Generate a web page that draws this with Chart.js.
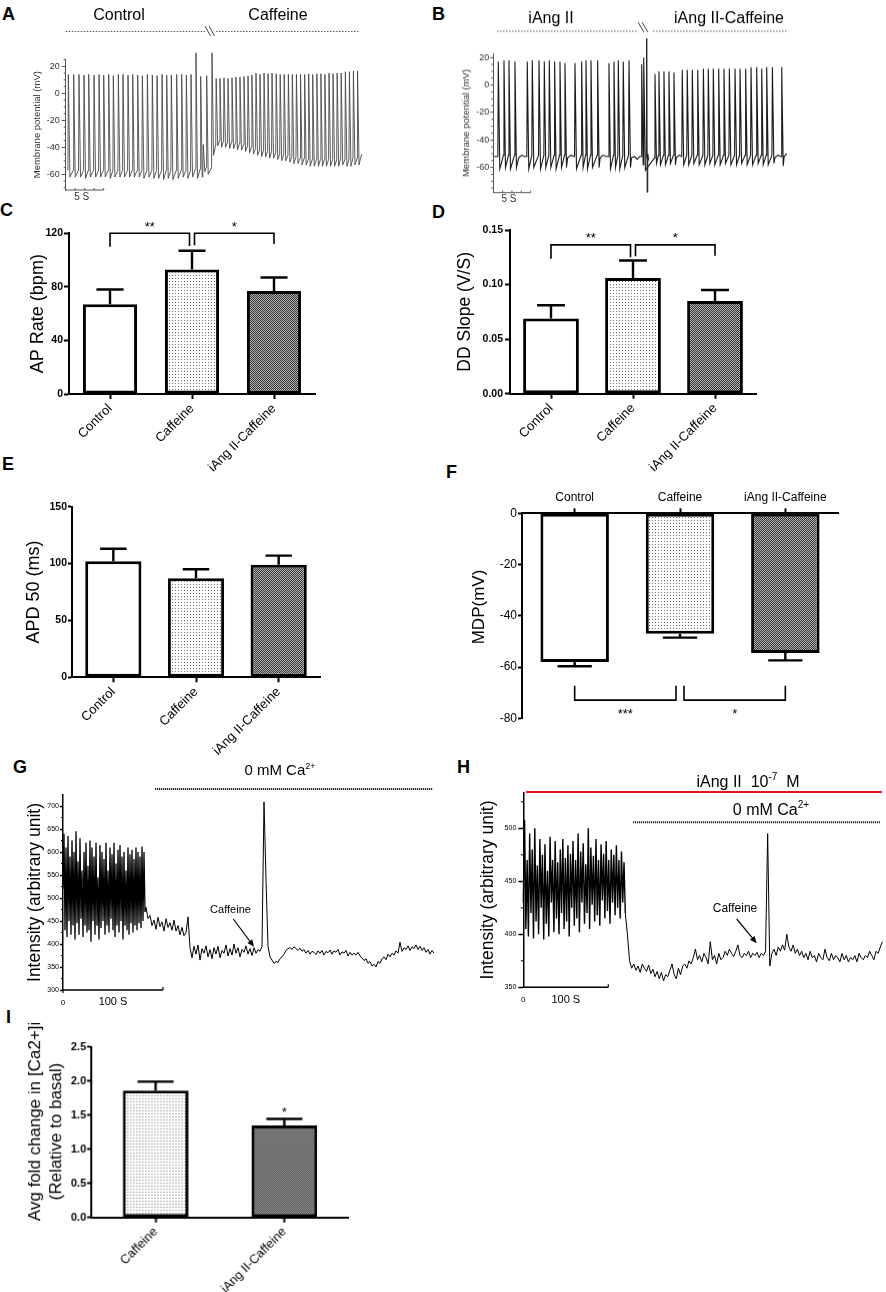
<!DOCTYPE html>
<html>
<head>
<meta charset="utf-8">
<script src="https://cdn.jsdelivr.net/npm/chart.js@4.4.1/dist/chart.umd.min.js"></script>
<style>
  body { margin: 0; background: #fff; }
  #fig { position: relative; width: 886px; height: 1292px; background: #fff; overflow: hidden;
         font-family: Arial, "Liberation Sans", Helvetica, sans-serif; }
  .lab { position: absolute; font-weight: bold; font-size: 18px; line-height: 18px; color: #000; }
</style>
</head>
<body>
<div id="fig">
  <div class="lab" style="left:2px;top:4.6px">A</div>
  <div class="lab" style="left:432px;top:4.6px">B</div>
  <div class="lab" style="left:0px;top:200.6px">C</div>
  <div class="lab" style="left:432px;top:202.6px">D</div>
  <div class="lab" style="left:2px;top:454.6px">E</div>
  <div class="lab" style="left:446px;top:462.6px">F</div>
  <div class="lab" style="left:13px;top:757.6px">G</div>
  <div class="lab" style="left:457px;top:757.6px">H</div>
  <div class="lab" style="left:6px;top:1007.6px">I</div>
</div>
<script>
// ---- A: sinoatrial AP trace, control then caffeine (s, mV per beat) ----
const aTimes = [
  0.35, 1.05, 1.75, 2.41, 3.03, 3.73, 4.39, 5.0, 5.66, 6.27, 6.93, 7.54, 8.2, 8.82, 9.47, 10.09,
  10.75, 11.4, 12.02, 12.68, 13.29, 13.9, 14.6, 15.26, 15.88, 16.49, 17.14, 17.76, 18.1, 18.55, 19.25,
  19.8, 20.3, 20.83, 21.36, 21.88, 22.4, 22.93, 23.46, 23.99, 24.5, 25.04, 25.57, 26.1, 26.63, 27.15,
  27.7, 28.22, 28.75, 29.3, 29.82, 30.36, 30.9, 31.44, 31.97, 32.5, 33.05, 33.58, 34.1, 34.65, 35.18,
  35.72, 36.25, 36.8, 37.33, 37.86, 38.4
];
const aTakeoff = [
  -57, -57, -57, -57, -57, -57, -57, -57, -57, -57, -57, -57, -57, -57, -57, -57,
  -57, -57, -57, -57, -57, -57, -57, -57, -57, -57, -56, -56, -57, -55, -55,
  -38, -35, -35, -36, -36, -37, -37, -38, -39, -40, -41, -42, -42, -43, -43,
  -44, -45, -45, -46, -47, -47, -48, -48, -49, -49, -49, -49, -49, -49, -49,
  -49, -48, -49, -49, -48, -48
];
const aPeak = [
  14, 14, 14, 13.5, 14, 13.5, 14, 13.5, 14, 13, 14, 14, 13.5, 14, 13.5, 13,
  14, 13.5, 13, 14, 13.5, 13.5, 14, 14, 13.5, 14, 30, 12.5, -38, 13, 30,
  11, 11, 11.5, 11, 11.5, 12, 12, 12.5, 13, 13.5, 15, 14, 15, 14.5, 15,
  14.5, 14, 14, 14, 14, 14, 14, 14, 14.5, 14, 14.5, 14.5, 14, 15, 14.5,
  15, 15, 16, 16, 16.5, 16.5
];
const aTrough = [
  -62, -62, -62, -63, -62, -62, -62, -62, -63, -62, -62, -62, -62, -62, -62, -63,
  -62, -63, -63, -64, -63, -64, -63, -62, -63, -62, -63, -62, -58, -60, -46,
  -39, -40, -40, -41, -41, -42, -42, -43, -44, -45, -46, -47, -47, -48, -48,
  -49, -50, -50, -51, -52, -52, -53, -53, -54, -54, -54, -54, -54, -54, -54,
  -54, -53, -54, -54, -53, -53
];
const aTailT = [38.75, 38.95];
const aTailV = [-49, -45];
const aYTicks = [-60, -40, -20, 0, 20];
const aYMinor = [-70, -65, -55, -50, -45, -35, -30, -25, -15, -10, -5, 5, 10, 15, 25];

// ---- B: iAng II then iAng II + caffeine ----
const bTimes = [
  0.67, 1.43, 2.1, 2.9, 4.55, 5.22, 6.12, 6.83, 7.5, 8.21, 8.93, 9.6, 10.94, 11.83, 12.41, 13.08,
  13.97, 15.49, 16.16, 16.74, 17.4, 18.17, 19.87, 20.17,
  21.65, 22.18, 22.85, 23.52, 24.19, 25.3, 25.97, 26.65, 27.37, 28.13, 28.79, 29.46, 30.18, 30.89,
  31.61, 32.37, 33.04, 33.79, 34.51, 35.27, 35.94, 36.61, 37.37, 38.62
];
const bTakeoff = [
  -52, -51, -51, -51, -52, -51, -51, -51, -51, -51, -51, -51, -52, -51, -51, -51,
  -51, -52, -51, -51, -51, -51, -52, -51,
  -53, -51, -51, -51, -51, -52, -51, -51, -51, -51, -51, -51, -51, -51,
  -51, -51, -51, -51, -51, -51, -51, -51, -51, -52
];
const bPeak = [
  17, 18, 18, 17, 17, 18, 18, 17, 18, 17, 17, 16, 16, 17, 18, 18,
  18, 16, 17, 18, 17, 18, 15, 20,
  8, 10, 10, 10, 9, 11, 11, 11, 11, 12, 12, 12, 12, 12,
  12, 12, 12, 12, 13, 13, 12, 13, 13, 13
];
const bTrough = [
  -61, -60, -61, -60, -61, -60, -61, -60, -60, -61, -60, -60, -61, -60, -61, -60,
  -60, -61, -60, -61, -60, -60, -58, -62,
  -57, -58, -58, -57, -58, -58, -58, -57, -58, -58, -57, -58, -58, -57,
  -58, -58, -57, -58, -58, -57, -58, -58, -57, -59
];
// resting stretches between bursts
const bRestT = [0.1, 3.4, 3.8, 4.2, 9.95, 10.4, 14.3, 14.7, 15.1, 18.5, 18.9, 19.3, 19.6,
                24.5, 24.9, 37.7, 38.1, 38.95, 39.3];
const bRestV = [-52, -53, -51, -52, -53, -51, -53, -51, -52, -53, -52, -54, -52,
                -53, -51, -53, -51, -52, -50];
const bArtifactT = [20.48, 20.54, 20.6, 20.68, 20.8];
const bArtifactV = [-53, 34, -78, -50, -55];
const bYTicks = [-60, -40, -20, 0, 20];
const bYMinor = [-75, -70, -65, -55, -50, -45, -35, -30, -25, -15, -10, -5, 5, 10, 15];

// ---- C-F, I: group means and SEM ----
const groups3 = ['Control', 'Caffeine', 'iAng II-Caffeine'];
const groups2 = ['Caffeine', 'iAng II-Caffeine'];
const apRate = [67, 93, 77];
const apRateSem = [11, 14, 10];
const ddSlope = [0.069, 0.106, 0.085];
const ddSlopeSem = [0.012, 0.016, 0.010];
const apd50 = [102, 87, 99];
const apd50Sem = [11, 8, 8];
const mdp = [-58, -47, -54.5];
const mdpSem = [1.7, 1.5, 2.9];
const caFold = [1.86, 1.35];
const caFoldSem = [0.13, 0.095];
const cTicks = [0, 40, 80, 120];
const dTicks = [0, 0.05, 0.10, 0.15];
const eTicks = [0, 50, 100, 150];
const fTicks = [-80, -60, -40, -20, 0];
const iTicks = [0, 0.5, 1.0, 1.5, 2.0, 2.5];
const cSig = [{ from: 0, to: 1, level: 120, ends: [110, 110.5], text: '**' },
              { from: 1, to: 2, level: 120, ends: [111, 112], text: '*' }];
const dSig = [{ from: 0, to: 1, level: 0.1364, ends: [0.1236, 0.125], text: '**' },
              { from: 1, to: 2, level: 0.1364, ends: [0.126, 0.1263], text: '*' }];
const fSig = [{ from: 0, to: 1, level: -72.9, ends: [-67.3, -67.3], text: '***' },
              { from: 1, to: 2, level: -72.9, ends: [-67.3, -67.3], text: '*' }];
const iSig = [{ from: 1, to: 1, level: 1.46, text: '*' }];

// ---- G: Ca2+ fluorescence, fast part sampled every 2 s, then every 4 s ----
const gFast = [
  520, 640, 430, 610, 415, 635, 450, 590, 420, 625,
  440, 600, 410, 645, 445, 580, 420, 630, 455, 560,
  415, 600, 440, 620, 425, 570, 430, 625, 405, 610,
  450, 590, 420, 620, 440, 545, 410, 615, 435, 600,
  450, 585, 420, 620, 440, 560, 425, 610, 455, 595,
  430, 620, 415, 575, 440, 605, 425, 615, 450, 590,
  410, 600, 440, 560, 430, 610, 420, 595, 445, 605,
  425, 585, 440, 610, 430, 600, 445, 590, 435, 612,
  450, 600, 470
];
const gSlow = [
  480, 455, 462, 440, 452, 432, 458, 438, 448, 428,
  455, 436, 446, 430, 452, 428, 440, 420, 436, 418,
  425, 459, 392, 370, 395, 378, 398, 365, 390, 380,
  396, 372, 388, 368, 392, 378, 395, 370, 386, 380,
  398, 374, 390, 376, 400, 380, 392, 372, 388, 382,
  396, 378, 390, 375, 392, 380, 388, 384, 395, 709,
  540, 395, 372, 365, 358, 362, 360, 368, 372, 378,
  386, 390, 392, 388, 394, 390, 386, 391, 384, 388,
  380, 386, 378, 384, 382, 377, 385, 380, 386, 376,
  384, 381, 387, 378, 385, 382, 388, 376, 383, 380,
  386, 374, 382, 376, 380, 376, 382, 374, 370, 364,
  368, 358, 362, 352, 356, 350, 362, 358, 368, 372,
  366, 378, 372, 380, 376, 385, 380, 404, 384, 392,
  388, 396, 386, 394, 390, 398, 388, 395, 386, 392,
  382, 388, 378, 386, 380
];
const gYTicks = [300, 350, 400, 450, 500, 550, 600, 650, 700];
const gYMinor = [325, 375, 425, 475, 525, 575, 625, 675];

// ---- H: same with iAng II, fast part every 3 s, then every 5 s ----
const hFast = [
  430, 508, 405, 470, 398, 495, 420, 480, 396, 500,
  412, 465, 400, 490, 425, 475, 395, 485, 410, 460,
  398, 492, 430, 470, 402, 488, 415, 468, 400, 480,
  420, 490, 405, 472, 412, 484, 398, 476, 425, 488,
  408, 470, 415, 495, 402, 478, 430, 486, 410, 466,
  420, 500, 405, 482, 428, 474, 412, 490, 418, 470,
  408, 485, 432, 476, 415, 488, 422, 470, 410, 480,
  430, 475, 418, 484, 425, 470, 415, 478, 430, 468,
  420
];
const hSlow = [
  400, 375, 368, 372, 366, 370, 364, 372, 368, 365,
  371, 363, 367, 360, 365, 358, 364, 356, 362, 360,
  366, 372, 362, 358, 368, 362, 370, 372, 368, 375,
  372, 378, 386, 376, 380, 374, 382, 378, 372, 393,
  376, 380, 372, 382, 376, 378, 384, 380, 386, 382,
  379, 384, 390, 380, 378, 382, 380, 384, 378, 382,
  380, 383, 378, 382, 380, 384, 495, 370, 382, 386,
  380, 388, 384, 390, 385, 400, 388, 384, 390, 382,
  386, 380, 384, 378, 382, 376, 384, 378, 380, 374,
  382, 378, 376, 386, 378, 375, 382, 376, 380, 378,
  374, 382, 376, 380, 374, 378, 376, 380, 374, 382,
  378, 376, 380, 378, 384, 380, 376, 384, 382, 388,
  393
];
const hYTicks = [350, 400, 450, 500];
const hYMinor = [375, 425, 475, 525];

// ---------------------------------------------------------------
const FONT = 'Arial, "Liberation Sans", Helvetica, sans-serif';
Chart.defaults.font.family = FONT;
Chart.defaults.color = '#000';
Chart.defaults.animation = false;
Chart.defaults.responsive = true;
Chart.defaults.maintainAspectRatio = false;
Chart.defaults.plugins.legend.display = false;
Chart.defaults.plugins.tooltip.enabled = false;

const fig = document.getElementById('fig');
const UPSTROKE = 0.06, REPOL = 0.2;

function beats(times, takeoff, peak, trough) {
  const pts = [];
  times.forEach((t, i) => {
    pts.push({ x: t - UPSTROKE, y: takeoff[i] }, { x: t, y: peak[i] }, { x: t + REPOL, y: trough[i] });
  });
  return pts;
}
function sampled(start, step, values) {
  return values.map((v, i) => ({ x: start + i * step, y: v }));
}
function pairs(ts, vs) {
  return ts.map((t, i) => ({ x: t, y: vs[i] }));
}
function byTime(...lists) {
  return [].concat(...lists).sort((p, q) => p.x - q.x);
}

function boxFor(plot, m) {
  return { left: plot[0] - m.l, top: plot[1] - m.t,
           width: plot[2] - plot[0] + m.l + m.r, height: plot[3] - plot[1] + m.t + m.b };
}
function mount(b) {
  const d = document.createElement('div');
  d.style.cssText = `position:absolute;left:${b.left}px;top:${b.top}px;width:${b.width}px;height:${b.height}px`;
  const c = document.createElement('canvas');
  d.appendChild(c);
  fig.appendChild(d);
  return c;
}
function tile(size, paint) {
  const c = document.createElement('canvas');
  c.width = c.height = size;
  const g = c.getContext('2d');
  paint(g);
  return g.createPattern(c, 'repeat');
}
const dots = tile(3, g => {
  g.fillStyle = '#fff'; g.fillRect(0, 0, 3, 3);
  g.fillStyle = '#6e6e6e'; g.fillRect(1, 1, 1, 1);
});
const mesh = tile(2, g => {
  g.fillStyle = '#b8b8b8'; g.fillRect(0, 0, 2, 2);
  g.fillStyle = '#2e2e2e'; g.fillRect(0, 0, 1, 1); g.fillRect(1, 1, 1, 1);
});

// ---- drawing helpers (page coordinates) ----
function stroke(ctx, pts, color, width, dash) {
  ctx.save();
  ctx.strokeStyle = color; ctx.lineWidth = width;
  ctx.setLineDash(dash || []);
  ctx.beginPath();
  pts.forEach((p, i) => i ? ctx.lineTo(p[0], p[1]) : ctx.moveTo(p[0], p[1]));
  ctx.stroke();
  ctx.restore();
}
function label(ctx, str, x, y, size, align, color) {
  ctx.save();
  ctx.font = `${size}px ${FONT}`;
  ctx.fillStyle = color || '#000';
  ctx.textAlign = align || 'center';
  ctx.textBaseline = 'alphabetic';
  ctx.fillText(str, x, y);
  ctx.restore();
}
function vlabel(ctx, str, cx, cy, size) {
  ctx.save();
  ctx.translate(cx, cy);
  ctx.rotate(-Math.PI / 2);
  ctx.font = `${size}px ${FONT}`;
  ctx.fillStyle = '#000';
  ctx.textAlign = 'center';
  ctx.textBaseline = 'middle';
  ctx.fillText(str, 0, 0);
  ctx.restore();
}
function runs(ctx, parts, cx, y) {
  ctx.save();
  ctx.fillStyle = '#000'; ctx.textAlign = 'left'; ctx.textBaseline = 'alphabetic';
  let w = 0;
  parts.forEach(p => { ctx.font = `${p[1]}px ${FONT}`; w += ctx.measureText(p[0]).width; });
  let x = cx - w / 2;
  parts.forEach(p => {
    ctx.font = `${p[1]}px ${FONT}`;
    ctx.fillText(p[0], x, y - p[2]);
    x += ctx.measureText(p[0]).width;
  });
  ctx.restore();
}
function arrow(ctx, x0, y0, x1, y1) {
  const a = Math.atan2(y1 - y0, x1 - x0);
  stroke(ctx, [[x0, y0], [x1 - 4 * Math.cos(a), y1 - 4 * Math.sin(a)]], '#000', 1.2);
  ctx.save();
  ctx.fillStyle = '#000';
  ctx.beginPath();
  ctx.moveTo(x1, y1);
  ctx.lineTo(x1 - 7 * Math.cos(a) + 3 * Math.sin(a), y1 - 7 * Math.sin(a) - 3 * Math.cos(a));
  ctx.lineTo(x1 - 7 * Math.cos(a) - 3 * Math.sin(a), y1 - 7 * Math.sin(a) + 3 * Math.cos(a));
  ctx.closePath();
  ctx.fill();
  ctx.restore();
}
function minorTicks(ctx, area, Y, values, len, color, width) {
  ctx.save();
  ctx.strokeStyle = color; ctx.lineWidth = width;
  ctx.beginPath();
  values.forEach(v => { const y = Y(v); ctx.moveTo(area.l - len, y); ctx.lineTo(area.l, y); });
  ctx.stroke();
  ctx.restore();
}

function overlay(b, draw) {
  return {
    id: 'overlay',
    afterDraw(chart) {
      if (!draw) return;
      const ctx = chart.ctx, ca = chart.chartArea;
      const X = v => chart.scales.x.getPixelForValue(v) + b.left;
      const Y = v => chart.scales.y.getPixelForValue(v) + b.top;
      const area = { l: ca.left + b.left, r: ca.right + b.left, t: ca.top + b.top, b: ca.bottom + b.top };
      ctx.save();
      ctx.translate(-b.left, -b.top);
      draw(ctx, X, Y, area);
      ctx.restore();
    }
  };
}

function tracePanel(p) {
  const b = boxFor(p.plot, p.m);
  new Chart(mount(b), {
    type: 'line',
    data: {
      datasets: p.series.map(s => ({
        data: s.data, borderColor: s.color, borderWidth: s.width,
        pointRadius: 0, tension: 0, clip: false
      }))
    },
    options: {
      layout: { padding: { top: p.m.t, right: p.m.r, bottom: p.m.b, left: 0 } },
      scales: {
        x: { type: 'linear', display: false, min: p.xMin, max: p.xMax },
        y: {
          min: p.yMin, max: p.yMax,
          afterFit: s => { s.width = p.m.l; },
          afterBuildTicks: s => { s.ticks = p.yTicks.map(v => ({ value: v })); },
          border: { color: p.axisColor, width: p.axisWidth },
          grid: { drawOnChartArea: false, tickLength: p.tickLen, tickWidth: p.axisWidth, tickColor: p.axisColor },
          ticks: { padding: p.tickPad, font: { size: p.tickSize }, color: p.tickColor },
          title: { display: true, text: p.title, color: p.titleColor,
                   font: { size: p.titleSize }, padding: { top: p.titlePad, bottom: 0 } }
        }
      }
    },
    plugins: [overlay(b, p.draw)]
  });
}

function errorBars(values, errors, capFrac) {
  return {
    id: 'errorBars',
    afterDatasetsDraw(chart) {
      const ctx = chart.ctx, y = chart.scales.y;
      ctx.save();
      ctx.strokeStyle = '#000'; ctx.lineWidth = 2.4;
      chart.getDatasetMeta(0).data.forEach((bar, i) => {
        const v = values[i], dir = v < 0 ? -1 : 1;
        const y0 = y.getPixelForValue(v), y1 = y.getPixelForValue(v + dir * errors[i]);
        const half = bar.width * capFrac / 2;
        ctx.beginPath();
        ctx.moveTo(bar.x, y0); ctx.lineTo(bar.x, y1);
        ctx.moveTo(bar.x - half, y1); ctx.lineTo(bar.x + half, y1);
        ctx.stroke();
      });
      ctx.restore();
    }
  };
}

function sigMarks(list, st) {
  return {
    id: 'sigMarks',
    afterDatasetsDraw(chart) {
      const { ctx, scales: { x, y } } = chart;
      ctx.save();
      ctx.strokeStyle = '#000'; ctx.fillStyle = '#000'; ctx.lineWidth = 1.6;
      ctx.font = `${st.size}px ${FONT}`; ctx.textAlign = 'center'; ctx.textBaseline = 'alphabetic';
      list.forEach(m => {
        const yl = y.getPixelForValue(m.level);
        if (!m.ends) {
          ctx.fillText(m.text, x.getPixelForValue(m.from), yl + st.dy);
          return;
        }
        const shared = i => list.some(o => o !== m && o.ends && (o.from === i || o.to === i));
        const xa = x.getPixelForValue(m.from) + (shared(m.from) ? st.gap : 0);
        const xb = x.getPixelForValue(m.to) - (shared(m.to) ? st.gap : 0);
        ctx.beginPath();
        ctx.moveTo(xa, y.getPixelForValue(m.ends[0]));
        ctx.lineTo(xa, yl); ctx.lineTo(xb, yl);
        ctx.lineTo(xb, y.getPixelForValue(m.ends[1]));
        ctx.stroke();
        ctx.fillText(m.text, (xa + xb) / 2, yl + st.dy);
      });
      ctx.restore();
    }
  };
}

function barPanel(p) {
  const b = boxFor(p.plot, p.m);
  const onTop = p.xPos === 'top';
  new Chart(mount(b), {
    type: 'bar',
    data: {
      labels: p.labels,
      datasets: [{
        data: p.values, backgroundColor: p.fills, borderColor: '#000', borderWidth: 3,
        borderSkipped: false, barPercentage: 1, categoryPercentage: p.cat
      }]
    },
    options: {
      layout: {
        padding: onTop ? { top: p.m.t - p.xh, right: p.m.r, bottom: p.m.b, left: 0 }
                       : { top: p.m.t, right: p.m.r, bottom: 0, left: 0 }
      },
      scales: {
        x: {
          position: onTop ? 'top' : 'bottom',
          afterFit: s => { s.height = onTop ? p.xh : p.m.b; },
          border: { color: '#000', width: 2 },
          grid: { drawOnChartArea: false, offset: false, tickLength: 5, tickWidth: 2, tickColor: '#000' },
          ticks: { autoSkip: false, minRotation: p.rot, maxRotation: p.rot, padding: p.xPad,
                   font: { size: p.xSize } }
        },
        y: {
          min: p.yMin, max: p.yMax,
          afterFit: s => { s.width = p.m.l; },
          afterBuildTicks: s => { s.ticks = p.yTicks.map(v => ({ value: v })); },
          border: { color: '#000', width: 2 },
          grid: { drawOnChartArea: false, tickLength: p.tickLen, tickWidth: 2, tickColor: '#000' },
          ticks: { padding: p.tickPad, font: { size: p.ySize, weight: p.yWeight },
                   callback: v => Number(v).toFixed(p.dec) },
          title: { display: !!p.title, text: p.title || '', font: { size: p.titleSize || 16 },
                   padding: { top: p.titlePad || 0, bottom: 0 } }
        }
      }
    },
    plugins: [errorBars(p.values, p.errors, p.cap), sigMarks(p.sig || [], p.sigStyle || {}), overlay(b, p.draw)]
  });
}

// ---- A ----
tracePanel({
  plot: [65.7, 59.3, 362.1, 190], m: { l: 50.7, t: 59.3, r: 5, b: 17 },
  xMin: 0, xMax: 39, yMin: -71.6, yMax: 25.2, yTicks: aYTicks,
  axisColor: '#555', axisWidth: 1, tickLen: 4, tickPad: 2, tickSize: 9, tickColor: '#333',
  title: 'Membrane potential (mV)', titleSize: 9.5, titleColor: '#333', titlePad: 16.3,
  series: [{ data: byTime(beats(aTimes, aTakeoff, aPeak, aTrough), pairs(aTailT, aTailV)), color: '#4a4a4a', width: 0.9 }],
  draw(ctx, X, Y, area) {
    label(ctx, 'Control', 119, 20, 16);
    label(ctx, 'Caffeine', 278, 20, 16);
    stroke(ctx, [[65.7, 31.5], [205, 31.5]], '#555', 1, [1.5, 1.5]);
    stroke(ctx, [[216, 31.5], [358.3, 31.5]], '#555', 1, [1.5, 1.5]);
    stroke(ctx, [[205, 26], [210.5, 36]], '#444', 1);
    stroke(ctx, [[209, 26], [214.5, 36]], '#444', 1);
    stroke(ctx, [[X(0), area.b], [X(5), area.b]], '#555', 1);
    [1.25, 2.5, 3.75, 5].forEach(t => stroke(ctx, [[X(t), area.b], [X(t), area.b - 2]], '#555', 1));
    label(ctx, '5 S', X(2.1), area.b + 10, 10, 'center', '#333');
    minorTicks(ctx, area, Y, aYMinor, 2, '#555', 1);
  }
});

// ---- B ----
tracePanel({
  plot: [493.3, 53.3, 788.3, 191.7], m: { l: 48.3, t: 53.3, r: 5, b: 17 },
  xMin: 0, xMax: 39.5, yMin: -78.3, yMax: 22.9, yTicks: bYTicks,
  axisColor: '#555', axisWidth: 1, tickLen: 3, tickPad: 1, tickSize: 9, tickColor: '#333',
  title: 'Membrane potential (mV)', titleSize: 9.5, titleColor: '#333', titlePad: 16,
  series: [
    { data: byTime(beats(bTimes, bTakeoff, bPeak, bTrough), pairs(bRestT, bRestV)), color: '#1a1a1a', width: 1.1 },
    { data: pairs(bArtifactT, bArtifactV), color: '#1a1a1a', width: 1 }
  ],
  draw(ctx, X, Y, area) {
    label(ctx, 'iAng II', 551, 22.7, 16);
    label(ctx, 'iAng II-Caffeine', 729, 22.7, 16);
    stroke(ctx, [[497, 31], [638, 31]], '#555', 1, [1.5, 1.5]);
    stroke(ctx, [[653, 31], [788.3, 31]], '#555', 1, [1.5, 1.5]);
    stroke(ctx, [[638, 22], [644, 32]], '#444', 1);
    stroke(ctx, [[642, 22], [648, 32]], '#444', 1);
    stroke(ctx, [[X(0), area.b], [X(5), area.b]], '#555', 1);
    [1.25, 2.5, 3.75, 5].forEach(t => stroke(ctx, [[X(t), area.b], [X(t), area.b - 2]], '#555', 1));
    label(ctx, '5 S', X(2.1), area.b + 9.5, 10, 'center', '#333');
    minorTicks(ctx, area, Y, bYMinor, 2, '#555', 1);
  }
});

// ---- C ----
barPanel({
  plot: [69, 233.3, 315, 394], m: { l: 54, t: 28.3, r: 10, b: 81 },
  labels: groups3, values: apRate, errors: apRateSem, fills: ['#fff', dots, mesh], cat: 0.66, cap: 0.5,
  yMin: 0, yMax: 120, yTicks: cTicks, dec: 0, ySize: 10.5, yWeight: 'bold', tickLen: 5, tickPad: 1,
  title: 'AP Rate (bpm)', titleSize: 18, titlePad: 12.2, rot: 45, xPad: 2, xSize: 13,
  sig: cSig, sigStyle: { gap: 2.5, dy: -2.5, size: 13 }
});

// ---- D ----
barPanel({
  plot: [510, 230, 756, 393.7], m: { l: 60, t: 25, r: 10, b: 86.3 },
  labels: groups3, values: ddSlope, errors: ddSlopeSem, fills: ['#fff', dots, mesh], cat: 0.68, cap: 0.5,
  yMin: 0, yMax: 0.15, yTicks: dTicks, dec: 2, ySize: 10.5, yWeight: 'bold', tickLen: 5, tickPad: 2,
  title: 'DD Slope (V/S)', titleSize: 17.5, titlePad: 4.5, rot: 45, xPad: 2, xSize: 13,
  sig: dSig, sigStyle: { gap: 2.5, dy: -3, size: 13 }
});

// ---- E ----
barPanel({
  plot: [72, 506.7, 320, 677.3], m: { l: 57, t: 16.7, r: 10, b: 92.7 },
  labels: groups3, values: apd50, errors: apd50Sem, fills: ['#fff', dots, mesh], cat: 0.68, cap: 0.47,
  yMin: 0, yMax: 150, yTicks: eTicks, dec: 0, ySize: 10.5, yWeight: 'bold', tickLen: 4, tickPad: 1,
  title: 'APD 50 (ms)', titleSize: 18, titlePad: 8.6, rot: 45, xPad: 2, xSize: 13
});

// ---- F ----
barPanel({
  plot: [522, 513.3, 838, 718.3], m: { l: 57, t: 33.3, r: 12, b: 15 }, xPos: 'top', xh: 22,
  labels: groups3, values: mdp, errors: mdpSem, fills: ['#fff', dots, mesh], cat: 0.65, cap: 0.5,
  yMin: -80, yMax: 0, yTicks: fTicks, dec: 0, ySize: 12, yWeight: 'normal', tickLen: 4, tickPad: 1,
  rot: 0, xPad: 3, xSize: 12,
  sig: fSig, sigStyle: { gap: 4, dy: 18, size: 13 },
  draw(ctx) { vlabel(ctx, 'MDP(mV)', 479, 607, 17); }
});

// ---- G ----
tracePanel({
  plot: [63, 795, 435, 990], m: { l: 48, t: 35, r: 6, b: 20 },
  xMin: 0, xMax: 744, yMin: 300, yMax: 724, yTicks: gYTicks,
  axisColor: '#000', axisWidth: 1.5, tickLen: 3, tickPad: 1, tickSize: 7, tickColor: '#000',
  title: 'Intensity (arbitrary unit)', titleSize: 17.5, titleColor: '#000', titlePad: 9.5,
  series: [
    { data: sampled(0, 2, gFast), color: '#000', width: 1.3 },
    { data: [{ x: 164, y: gFast[gFast.length - 1] }].concat(sampled(166, 4, gSlow)), color: '#000', width: 1 }
  ],
  draw(ctx, X, Y, area) {
    runs(ctx, [['0 mM Ca', 15, 0], ['2+', 9, 6]], 280, 775);
    stroke(ctx, [[155, 789], [433, 789]], '#222', 2, [1.2, 0.8]);
    label(ctx, 'Caffeine', 230.5, 913, 11);
    arrow(ctx, 233.3, 919, 254, 946.7);
    stroke(ctx, [[X(0), area.b], [X(200), area.b]], '#000', 1.5);
    stroke(ctx, [[X(0), area.b], [X(0), area.b + 3]], '#000', 1.2);
    stroke(ctx, [[X(200), area.b], [X(200), area.b - 3]], '#000', 1.2);
    label(ctx, '0', X(0), 1005, 8);
    label(ctx, '100 S', X(100), 1005, 11);
    minorTicks(ctx, area, Y, gYMinor, 2, '#000', 1);
  }
});

// ---- H ----
tracePanel({
  plot: [523.3, 792.7, 883, 987.3], m: { l: 58.3, t: 32.7, r: 3, b: 22.7 },
  xMin: 0, xMax: 846.4, yMin: 350, yMax: 533.6, yTicks: hYTicks,
  axisColor: '#000', axisWidth: 1.5, tickLen: 5, tickPad: 2, tickSize: 7, tickColor: '#000',
  title: 'Intensity (arbitrary unit)', titleSize: 17.5, titleColor: '#000', titlePad: 12.5,
  series: [
    { data: sampled(0, 3, hFast), color: '#000', width: 1.4 },
    { data: [{ x: 240, y: hFast[hFast.length - 1] }].concat(sampled(245, 5, hSlow)), color: '#000', width: 1 }
  ],
  draw(ctx, X, Y, area) {
    runs(ctx, [['iAng II  10', 16, 0], ['-7', 10, 7], ['  M', 16, 0]], 748, 786.7);
    stroke(ctx, [[526, 792], [882, 792]], '#e3141c', 2);
    runs(ctx, [['0 mM Ca', 16, 0], ['2+', 10, 7]], 771, 815);
    stroke(ctx, [[633, 822.3], [880, 822.3]], '#222', 2, [1.2, 0.8]);
    label(ctx, 'Caffeine', 735, 911.7, 12);
    arrow(ctx, 736.7, 919, 756.7, 943.3);
    stroke(ctx, [[X(0), area.b], [X(200), area.b]], '#000', 1.5);
    stroke(ctx, [[X(200), area.b], [X(200), area.b - 3]], '#000', 1.2);
    label(ctx, '0', X(0), 1002, 8);
    label(ctx, '100 S', X(100), 1002.7, 11);
    minorTicks(ctx, area, Y, hYMinor, 2.5, '#000', 1);
  }
});

// ---- I ----
barPanel({
  plot: [91, 1046.7, 347.7, 1216.7], m: { l: 76, t: 36.7, r: 10, b: 75 },
  labels: groups2, values: caFold, errors: caFoldSem, fills: [dots, mesh], cat: 0.51, cap: 0.55,
  yMin: 0, yMax: 2.5, yTicks: iTicks, dec: 1, ySize: 11, yWeight: 'bold', tickLen: 4, tickPad: 1,
  rot: 45, xPad: 2, xSize: 12.5,
  sig: iSig, sigStyle: { gap: 0, dy: -1, size: 13 },
  draw(ctx) {
    vlabel(ctx, 'Avg fold change in [Ca2+]i', 35.5, 1121, 17);
    vlabel(ctx, '(Relative to basal)', 56.5, 1131, 17);
  }
});
</script>
</body>
</html>
